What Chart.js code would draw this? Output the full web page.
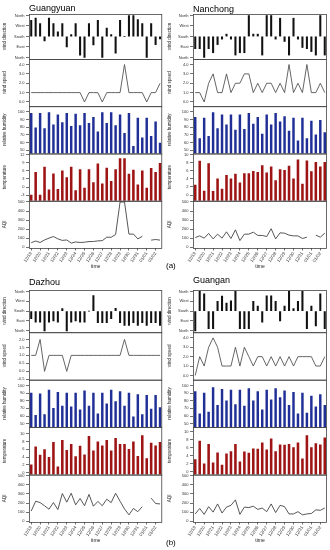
<!DOCTYPE html>
<html lang="en">
<head>
<meta charset="UTF-8">
<title>Weather and AQI, Sichuan cities</title>
<script src="https://cdn.jsdelivr.net/npm/chart.js"></script>
<style>
  body { margin: 0; background: #fff; font-family: "Liberation Sans", Arial, sans-serif; }
  #wrap { position: relative; width: 330px; height: 550px; overflow: hidden; }
  canvas { position: absolute; }
  .city { position: absolute; font-size: 9px; line-height: 9px; color: #000; }
  .tag { position: absolute; font-size: 8px; line-height: 8px; color: #000; }
</style>
</head>
<body>
<div id="wrap">
  <canvas id="gy" width="165" height="272" style="left:0;top:0"></canvas>
  <canvas id="nc" width="165" height="272" style="left:165px;top:0"></canvas>
  <canvas id="dz" width="165" height="270" style="left:0;top:276px"></canvas>
  <canvas id="ga" width="165" height="270" style="left:165px;top:276px"></canvas>
  <div class="city" style="left:29px;top:4px">Guangyuan</div>
  <div class="city" style="left:193px;top:5px">Nanchong</div>
  <div class="city" style="left:29px;top:278px">Dazhou</div>
  <div class="city" style="left:193px;top:276px">Guangan</div>
  <div class="tag" style="left:166px;top:262px">(a)</div>
  <div class="tag" style="left:166px;top:539px">(b)</div>
</div>
<script>
// dates, two readings per day (only the first of each day is labelled)
const dates = ['12/19', '12/20', '12/21', '12/22', '12/23', '12/24', '12/25', '12/26',
  '12/27', '12/28', '12/29', '12/30', '12/31', '01/01', '01/02'];
const dirLabels = ['North', 'East', 'South', 'West', 'North'];

// Guangyuan
const gyWindDir = [318, 337, 290, 141, 337, 290, 219, 290, 90, 197, 290, 20, 0, 290, 107, 318, 0, 253, 197, 37, 318, 180, 360, 360, 326, 290, 0, 290, 110, 158];
const gyWindSpeed = [1, 1, 1, 1, 1, 1, 1, 1, 1, 1, 1, 1, 0, 1, 1, 1, 0, 1, 1, 1, 1, 4, 1, 1, 1, 1, 0, 1, 1, 2];
const gyHumidity = [98, 79, 98, 78, 99, 83, 96, 86, 98, 81, 97, 82, 98, 85, 93, 74, 99, 85, 99, 82, 96, 72, 98, 55, 92, 66, 92, 68, 87, 59];
const gyTemp = [-3, 5.5, -3, 7.4, -1, 4.9, -0.9, 6, 3.5, 7.4, -1.3, 6.5, -0.4, 6.5, 1.7, 8.6, 1.2, 7.1, 2.1, 6.5, 10.6, 10.6, 4.8, 6.3, 0.8, 6, -0.4, 7, 5.5, 8.8];
const gyAqi = [50, 68, 52, 80, 100, 118, 92, 75, 80, 45, 58, 52, 55, 62, 63, 70, 72, 110, 110, 140, 500, 500, 145, 145, 92, 120, null, 78, 85, 78];

// Nanchong
const ncWindDir = [75, 75, 0, 75, 40, 110, 157, 200, 157, 20, 40, 40, 360, 200, 200, 20, 360, 360, 157, 337, 137, 20, 337, 157, 85, 75, 50, 20, 360, 20];
const ncWindSpeed = [1, 1, 0, 2, 3, 1, 1, 3, 1, 2, 2, 3, 3, 1, 2, 1, 2, 2, 1, 2, 1, 4, 1, 2, 1, 4, 1, 1, 2, 1];
const ncHumidity = [93, 65, 92, 68, 99, 78, 96, 83, 96, 76, 96, 77, 98, 84, 93, 71, 96, 83, 98, 87, 94, 75, 92, 62, 92, 65, 88, 70, 89, 73];
const ncTemp = [2.5, 8.4, 1.0, 7.8, 0.9, 4.0, 1.5, 4.9, 4.0, 5.2, 3.0, 5.3, 5.3, 5.9, 5.6, 7.3, 5.5, 7.0, 3.6, 6.3, 6.1, 7.2, 4.0, 8.7, 2.7, 8.5, 5.8, 8.1, 7.0, 8.1];
const ncAqi = [107, 125, 100, 152, 92, 144, 100, 170, 96, 192, 73, 144, 144, 166, 130, 130, 118, 204, 92, 159, 155, 133, 125, 125, 96, 111, null, 133, 111, 155];

// Dazhou
const dzWindDir = [112, 80, 80, 0, 80, 90, 80, 203, 0, 80, 90, 80, 80, 180, 323, 74, 74, 74, 112, 205, 74, 50, 50, 74, 50, 74, 50, 74, 74, 50];
const dzWindSpeed = [1, 1, 2, 0, 1, 1, 1, 1, 0, 1, 1, 1, 1, 1, 1, 1, 1, 1, 1, 1, 1, 2, 1, 1, 1, 1, 1, 1, 1, 1];
const dzHumidity = [90, 61, 89, 62, 94, 70, 91, 73, 90, 72, 90, 68, 93, 73, 90, 63, 90, 76, 94, 79, 92, 73, 90, 59, 88, 62, 87, 69, 87, 71];
const dzTemp = [2.0, 6.6, 4.5, 5.9, 3.9, 7.8, 1.5, 8.3, 5.7, 7.3, 4.1, 6.8, 4.6, 9.3, 5.6, 7.9, 6.9, 8.3, 5.6, 8.8, 7.3, 7.3, 6.0, 7.9, 4.2, 9.5, 3.6, 7.6, 6.9, 7.8];
const dzAqi = [112, 220, 205, 170, 132, 205, 128, 305, 210, 308, 180, 250, 170, 295, 165, 218, 170, 242, 205, 308, 220, 135, 70, 140, 105, 160, null, 254, 195, 190];

// Guangan
const gaWindDir = [0, 360, 337, 20, 20, 270, 318, 253, 275, 360, 20, 20, 20, 270, 225, 80, 320, 320, 270, 90, 225, 360, 203, 270, 360, 20, 225, 45, 337, 20];
const gaWindSpeed = [0, 2, 1, 3, 4, 3, 1, 1, 1, 3, 1, 3, 2, 1, 2, 2, 1, 2, 1, 2, 1, 2, 1, 2, 2, 2, 2, 1, 1, 2];
const gaHumidity = [92, 63, 90, 65, 97, 74, 95, 80, 94, 75, 94, 73, 96, 80, 92, 68, 94, 81, 96, 84, 93, 74, 91, 63, 90, 64, 86, 72, 88, 74];
const gaTemp = [3.0, 7.6, 1.9, 6.8, 2.2, 4.7, 1.6, 4.4, 5.0, 6.8, 2.4, 4.9, 4.6, 5.7, 5.6, 7.2, 5.4, 8.2, 5.0, 6.7, 6.6, 6.8, 6.0, 7.2, 3.2, 9.0, 6.0, 7.0, 6.7, 8.4];
const gaAqi = [80, 140, 75, 160, 100, 190, 90, 155, 175, 235, 75, 155, 150, 165, 130, 145, 105, 190, 95, 175, 160, 80, 80, 105, 70, 80, 85, 125, 120, 145];

const xLabels = [];
dates.forEach(d => { xLabels.push(d); xLabels.push(''); });

const FONT = '"Liberation Sans", Arial, sans-serif';
const TXT = '#333';

// box round every stacked panel, R style
const boxPlugin = {
  id: 'boxes',
  afterDraw(chart) {
    const ctx = chart.ctx, a = chart.chartArea;
    ctx.save();
    ctx.strokeStyle = '#444';
    ctx.lineWidth = 0.8;
    Object.values(chart.scales).forEach(s => {
      if (s.axis !== 'y') return;
      ctx.strokeRect(a.left + 0.5, s.top + 0.5, a.right - a.left - 1, s.bottom - s.top);
    });
    ctx.restore();
  }
};

function fix1(v) { return v.toFixed(1); }
function plain(v) { return String(v); }

function yScale(axisW, weight, stackWeight, min, max, step, fmt, title) {
  return {
    type: 'linear', position: 'left', stack: 'col', weight: weight, stackWeight: stackWeight,
    min: min, max: max,
    ticks: { stepSize: step, includeBounds: false, autoSkip: false, font: { size: 4, family: FONT }, color: TXT, padding: 1.5, callback: fmt },
    grid: { drawOnChartArea: false, tickLength: 3, color: '#333', lineWidth: 0.7 },
    border: { display: false },
    title: { display: true, text: title, font: { size: 4.5, family: FONT }, color: '#222', padding: { top: 2.3, bottom: 0 } },
    afterFit: s => { s.width = axisW; }
  };
}

function makeColumn(id, c) {
  new Chart(document.getElementById(id), {
    type: 'bar',
    data: {
      labels: xLabels,
      datasets: [
        { type: 'bar', data: c.wd, yAxisID: 'wd', base: 180, grouped: false, backgroundColor: '#111', barThickness: 1.4 },
        { type: 'line', data: c.ws, yAxisID: 'ws', borderColor: '#555', borderWidth: 0.9, pointRadius: 0, tension: 0 },
        { type: 'bar', data: c.hum, yAxisID: 'hum', grouped: false, backgroundColor: '#1f2f96', barThickness: 1.8 },
        { type: 'bar', data: c.temp, yAxisID: 'temp', base: c.tMin, grouped: false, backgroundColor: '#9e1414', barThickness: 1.9 },
        { type: 'line', data: c.aqi, yAxisID: 'aqi', borderColor: '#444', borderWidth: 0.9, pointRadius: 0, tension: 0 }
      ]
    },
    options: {
      responsive: false,
      animation: false,
      layout: { padding: { left: 0, right: c.padRight, top: 14, bottom: 2 } },
      plugins: { legend: { display: false }, tooltip: { enabled: false } },
      scales: {
        x: {
          type: 'category', offset: true,
          grid: { offset: false, drawOnChartArea: false, tickLength: 2.5, lineWidth: 0.7,
            color: ctx => (ctx.index % 2 ? 'rgba(0,0,0,0)' : '#333') },
          border: { display: false },
          ticks: { autoSkip: false, maxRotation: 55, minRotation: 55, padding: 0.5,
            font: { size: 4.5, family: FONT }, color: TXT },
          title: { display: true, text: 'time', font: { size: 5, family: FONT }, color: '#222', padding: { top: 0, bottom: 0 } },
          afterFit: s => { s.height = 22; }
        },
        aqi: yScale(c.axisW, 1, 1, -9, 514, 100, plain, 'AQI'),
        temp: yScale(c.axisW, 2, 1, c.tMin, c.tMax, c.tStep, plain, 'temperature'),
        hum: yScale(c.axisW, 3, 1, 45.5, 107.5, 10, plain, 'relative humidity'),
        ws: yScale(c.axisW, 4, 1, c.wsMin, c.wsMax, c.wsStep, fix1, 'wind speed'),
        wd: yScale(c.axisW, 5, c.wdWeight, -13, 373, 90, v => dirLabels[Math.round(v / 90)], 'wind direction')
      }
    },
    plugins: [boxPlugin]
  });
}

makeColumn('gy', { wd: gyWindDir, ws: gyWindSpeed, hum: gyHumidity, temp: gyTemp, aqi: gyAqi,
  axisW: 29, padRight: 2, wdWeight: 0.95, wsMin: -0.45, wsMax: 4.6, wsStep: 1, tMin: -5.1, tMax: 12.5, tStep: 3 });
makeColumn('nc', { wd: ncWindDir, ws: ncWindSpeed, hum: ncHumidity, temp: ncTemp, aqi: ncAqi,
  axisW: 28, padRight: 3, wdWeight: 0.95, wsMin: -0.45, wsMax: 4.6, wsStep: 1, tMin: -1.4, tMax: 10.3, tStep: 2 });
makeColumn('dz', { wd: dzWindDir, ws: dzWindSpeed, hum: dzHumidity, temp: dzTemp, aqi: dzAqi,
  axisW: 29, padRight: 2, wdWeight: 0.89, wsMin: -0.52, wsMax: 2.45, wsStep: 0.5, tMin: -0.5, tMax: 11.7, tStep: 2 });
makeColumn('ga', { wd: gaWindDir, ws: gaWindSpeed, hum: gaHumidity, temp: gaTemp, aqi: gaAqi,
  axisW: 28, padRight: 3, wdWeight: 0.89, wsMin: -0.45, wsMax: 4.6, wsStep: 1, tMin: -0.75, tMax: 11.1, tStep: 2 });
</script>
</body>
</html>
